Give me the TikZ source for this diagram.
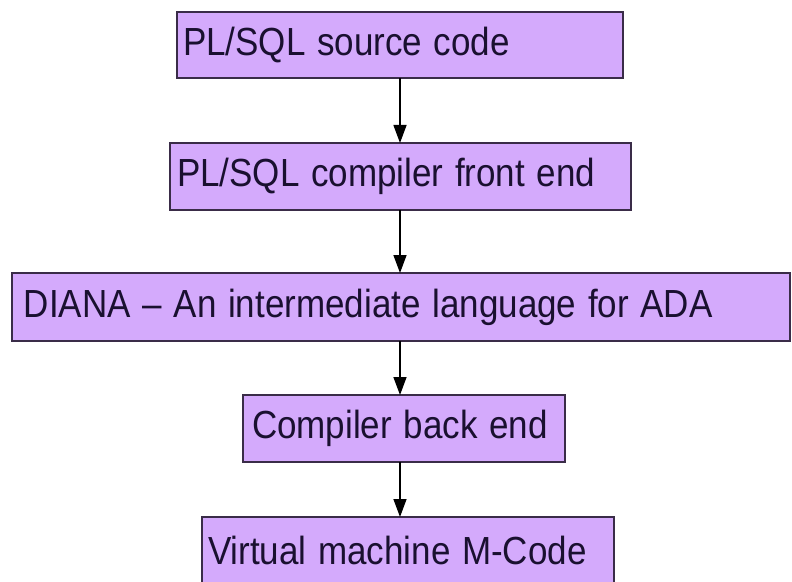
\documentclass[tikz,border=0pt]{standalone}
\usepackage{fontspec}
\setmainfont{Liberation Sans}
\usepackage{tikz}
\usetikzlibrary{positioning,arrows.meta}
\definecolor{boxfill}{RGB}{212,170,252}
\definecolor{boxline}{RGB}{58,44,72}
\definecolor{boxtext}{RGB}{26,16,48}
\newcommand{\tall}[1]{\scalebox{1}[1.12]{#1}}

\begin{document}
\begin{tikzpicture}[x=1bp,y=-1bp]
\tikzstyle{stage}=[rectangle, draw=boxline, line width=1.3bp, fill=boxfill,
  text=boxtext, font=\fontsize{35bp}{40bp}\selectfont, align=left,
  inner xsep=6bp, inner ysep=0pt]%
\tikzstyle{flow}=[line width=1.4bp, -{Triangle[width=13bp,length=18bp]}]

\useasboundingbox (0,0) rectangle (792,582);
\clip (0,0) rectangle (792,582);
\fill[white] (0,0) rectangle (792,582);

\node[stage, minimum width=446bp, minimum height=66bp, text width=434bp] (src) at (400,45) {\tall{PL/SQL source code}};
\node[stage, minimum width=461bp, minimum height=67bp, text width=447bp, inner xsep=7bp] (front) at (400.5,176.5) {\tall{PL/SQL compiler front end}};
\node[stage, minimum width=778bp, minimum height=68bp, text width=754bp, inner xsep=12bp] (diana) at (401,307) {\tall{DIANA -- An intermediate language for ADA}};
\node[stage, minimum width=322bp, minimum height=67bp, text width=304bp, inner xsep=9bp] (back) at (404,428.5) {\tall{Compiler back end}};
\node[stage, minimum width=412bp, minimum height=66bp, text width=400bp] (mcode) at (408,550) {\tall{Virtual machine M-Code}};

\coordinate (a1) at (400,78);  \coordinate (b1) at (400,143);
\coordinate (a2) at (400,210); \coordinate (b2) at (400,273);
\coordinate (a3) at (400,341); \coordinate (b3) at (400,395);
\coordinate (a4) at (400,462); \coordinate (b4) at (400,517);
\draw[flow] (a1) -- (b1);
\draw[flow] (a2) -- (b2);
\draw[flow] (a3) -- (b3);
\draw[flow] (a4) -- (b4);
\end{tikzpicture}
\end{document}
